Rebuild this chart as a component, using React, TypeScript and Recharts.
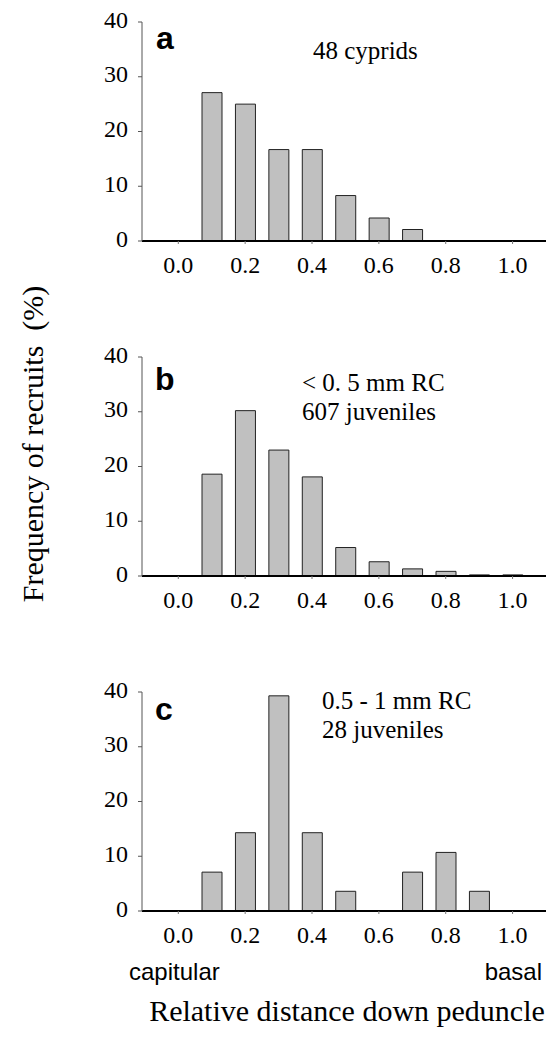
import { Bar, BarChart, XAxis, YAxis } from "recharts";

const bins = [0.0, 0.1, 0.2, 0.3, 0.4, 0.5, 0.6, 0.7, 0.8, 0.9, 1.0];
const cyprids = [0, 27.1, 25.0, 16.7, 16.7, 8.3, 4.2, 2.1, 0, 0, 0];
const juvSmall = [0, 18.6, 30.2, 23.0, 18.1, 5.2, 2.6, 1.3, 0.85, 0.2, 0.2];
const juvLarge = [0, 7.1, 14.3, 39.3, 14.3, 3.6, 0, 7.1, 10.7, 3.6, 0];

const xTicks = [0, 0.2, 0.4, 0.6, 0.8, 1.0];
const yTicks = [0, 10, 20, 30, 40];

const serif = "'Liberation Serif', 'Times New Roman', serif";
const sans = "'Liberation Sans', Arial, sans-serif";

const renderXTick = ({ x, y, payload }: any) => (
  <text x={x} y={y + 29} textAnchor="middle" style={{ fontFamily: serif, fontSize: 24 }} fill="#000">
    {Number(payload.value).toFixed(1)}
  </text>
);

const renderYTick = ({ x, y, payload }: any) => (
  <text x={x} y={y + 5.5} textAnchor="end" style={{ fontFamily: serif, fontSize: 24 }} fill="#000">
    {payload.value}
  </text>
);

function Panel({ values, top }: { values: number[]; top: number }) {
  const data = bins.map((x, i) => ({ x, v: values[i] }));
  return (
    <div style={{ position: "absolute", left: 0, top }}>
      <BarChart width={554} height={300} data={data} margin={{ top: 22, right: 8, bottom: 0, left: 0 }}>
        <XAxis
          dataKey="x"
          type="number"
          domain={[-0.1086, 1.1]}
          ticks={xTicks}
          interval={0}
          height={59}
          axisLine={{ stroke: "#000", strokeWidth: 2 }}
          tickLine={{ stroke: "#777" }}
          tickSize={3}
          tickMargin={0}
          tick={renderXTick}
        />
        <YAxis
          type="number"
          domain={[0, 40]}
          ticks={yTicks}
          interval={0}
          width={142}
          axisLine={{ stroke: "#555" }}
          tickLine={{ stroke: "#555" }}
          tickSize={4}
          tickMargin={10}
          tick={renderYTick}
        />
        <Bar dataKey="v" barSize={20} fill="#c0c0c0" stroke="#222" strokeWidth={1} isAnimationActive={false} />
      </BarChart>
    </div>
  );
}

export default function App() {
  return (
    <div style={{ position: "absolute", left: 0, top: 0, width: 554, height: 1039, background: "#fff" }}>
      <Panel values={cyprids} top={0} />
      <Panel values={juvSmall} top={335} />
      <Panel values={juvLarge} top={670} />
      <svg width={554} height={1039} style={{ position: "absolute", left: 0, top: 0, pointerEvents: "none" }}>
        <g style={{ fontFamily: sans, fontWeight: "bold", fontSize: 32 }} fill="#000">
          <text x={156} y={49}>a</text>
          <text x={155} y={390}>b</text>
          <text x={155} y={720}>c</text>
        </g>
        <g style={{ fontFamily: serif, fontSize: 25 }} fill="#000">
          <text x={313} y={59}>48 cyprids</text>
          <text x={302} y={391}>&lt; 0. 5 mm RC</text>
          <text x={302} y={420}>607 juveniles</text>
          <text x={322} y={709}>0.5 - 1 mm RC</text>
          <text x={322} y={738}>28 juveniles</text>
        </g>
        <g style={{ fontFamily: sans, fontSize: 24 }} fill="#000">
          <text x={129} y={980}>capitular</text>
          <text x={542} y={980} textAnchor="end">basal</text>
        </g>
        <text x={347} y={1021} textAnchor="middle" style={{ fontFamily: serif, fontSize: 30 }} fill="#000">
          Relative distance down peduncle
        </text>
        <text
          transform="translate(43,444) rotate(-90)"
          textAnchor="middle"
          style={{ fontFamily: serif, fontSize: 30, whiteSpace: "pre" }}
          fill="#000"
        >
          {"Frequency of recruits  (%)"}
        </text>
      </svg>
    </div>
  );
}
